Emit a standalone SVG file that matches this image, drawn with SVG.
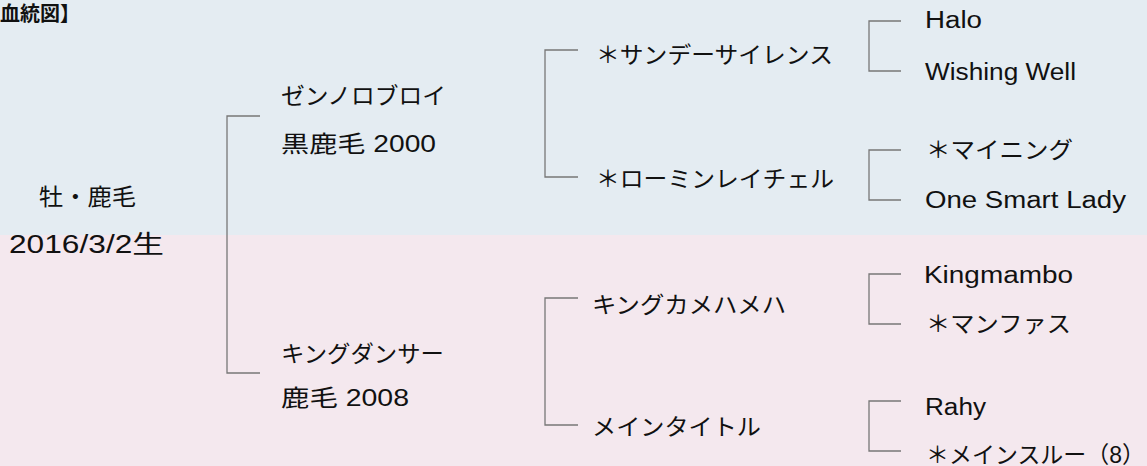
<svg xmlns="http://www.w3.org/2000/svg" width="1147" height="466" viewBox="0 0 1147 466">
<style>
text{font-family:"Liberation Sans","Noto Sans CJK JP",sans-serif;font-size:23px;fill:#111}
.t{font-size:20px;font-weight:bold}
.ln{fill:none;stroke:#777;stroke-width:1.3}
</style>
<rect x="0" y="0" width="1147" height="235" fill="#e4ecf2"/>
<rect x="0" y="235" width="1147" height="231" fill="#f4e8ee"/>
<g id="title"><text class="t" x="0" y="21" textLength="80" lengthAdjust="spacingAndGlyphs">血統図】</text></g>
<g id="connectors">
<path class="ln" d="M260,116H227V373H260"/>
<path class="ln" d="M578,50H545V177H578"/>
<path class="ln" d="M578,298H545V425H578"/>
<path class="ln" d="M901,21H869V71H901"/>
<path class="ln" d="M901,150H869V200H901"/>
<path class="ln" d="M901,274H869V324H901"/>
<path class="ln" d="M901,401H869V451H901"/>
</g>
<g id="horse"><text x="39" y="205" textLength="97" lengthAdjust="spacingAndGlyphs">牡・鹿毛</text><text x="9" y="253" textLength="155" lengthAdjust="spacingAndGlyphs" style="font-size:25px">2016/3/2生</text></g>
<g id="sire"><text x="281" y="104" textLength="165" lengthAdjust="spacingAndGlyphs">ゼンノロブロイ</text><text x="281" y="152" textLength="155" lengthAdjust="spacingAndGlyphs">黒鹿毛 2000</text></g>
<g id="dam"><text x="281" y="362" textLength="163" lengthAdjust="spacingAndGlyphs">キングダンサー</text><text x="281" y="406" textLength="128" lengthAdjust="spacingAndGlyphs">鹿毛 2008</text></g>
<g id="ss"><text x="596" y="63" textLength="237" lengthAdjust="spacingAndGlyphs">＊サンデーサイレンス</text></g>
<g id="rr"><text x="596" y="187" textLength="238" lengthAdjust="spacingAndGlyphs">＊ローミンレイチェル</text></g>
<g id="kk"><text x="592" y="313" textLength="194" lengthAdjust="spacingAndGlyphs">キングカメハメハ</text></g>
<g id="mt"><text x="592" y="435" textLength="169" lengthAdjust="spacingAndGlyphs">メインタイトル</text></g>
<g id="halo"><text x="925" y="28" textLength="57" lengthAdjust="spacingAndGlyphs">Halo</text></g>
<g id="ww"><text x="925" y="80" textLength="151" lengthAdjust="spacingAndGlyphs">Wishing Well</text></g>
<g id="mining"><text x="926" y="158" textLength="147" lengthAdjust="spacingAndGlyphs">＊マイニング</text></g>
<g id="osl"><text x="925" y="208" textLength="201" lengthAdjust="spacingAndGlyphs">One Smart Lady</text></g>
<g id="km"><text x="924" y="283" textLength="149" lengthAdjust="spacingAndGlyphs">Kingmambo</text></g>
<g id="mf"><text x="926" y="332" textLength="145" lengthAdjust="spacingAndGlyphs">＊マンファス</text></g>
<g id="rahy"><text x="925" y="415" textLength="61" lengthAdjust="spacingAndGlyphs">Rahy</text></g>
<g id="ms"><text x="926" y="463" textLength="219" lengthAdjust="spacingAndGlyphs">＊メインスルー（8）</text></g>
</svg>
